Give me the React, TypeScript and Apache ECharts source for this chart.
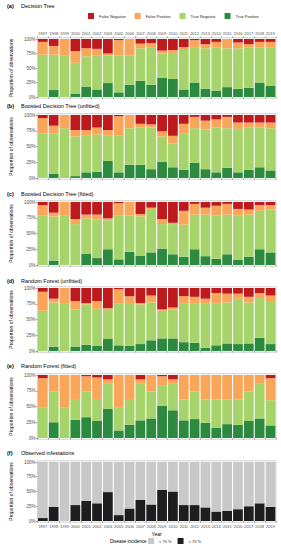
import React, { useEffect, useRef } from "react";
import * as echarts from "echarts";

const years = ["1997","1998","1999","2000","2001","2002","2003","2005","2006","2007","2008","2009","2010","2011","2012","2013","2014","2015","2016","2017","2018","2019"];

// (a) Decision Tree
const dtFN = [5,12,0,21,16,17,25,2,0,8,7,20,19,14,2,9,5,0,6,9,5,5];
const dtFP = [22,15,29,20,14,12,3,26,28,8,7,5,5,5,12,7,10,16,10,6,10,10];
const dtTN = [73,61,71,53,52,58,48,64,51,56,65,42,45,68,61,70,74,67,70,69,60,66];
const dtTP = [0,12,0,6,18,13,24,8,21,28,21,33,31,13,25,14,11,17,14,16,25,19];

// (b) Boosted Decision Tree (unfitted)
const bdtuFN = [5,17,0,24,24,20,24,2,0,14,15,26,33,14,3,9,7,3,12,12,12,12];
const bdtuFP = [24,12,21,10,8,11,8,30,21,6,5,8,12,15,18,14,13,18,10,8,8,9];
const bdtuTN = [71,64,79,63,59,59,41,59,58,59,66,40,38,58,55,63,71,63,69,67,63,67];
const bdtuTP = [0,7,0,3,9,10,27,9,21,21,14,26,17,13,24,14,9,16,9,13,17,12];

// (c) Boosted Decision Tree (fitted)
const bdtfFN = [5,17,0,27,20,20,26,2,0,19,9,27,33,14,3,9,6,3,11,12,5,5];
const bdtfFP = [16,6,21,8,6,8,3,19,21,4,2,8,2,22,17,11,15,17,10,8,9,7];
const bdtfTN = [79,70,79,65,56,61,46,70,58,62,69,39,48,51,55,66,69,63,71,67,61,68];
const bdtfTP = [0,7,0,0,18,11,25,9,21,15,20,26,17,13,25,14,10,17,8,13,25,20];

// (d) Random Forest (unfitted)
const rfuFN = [6,17,0,21,24,21,32,2,13,24,12,34,31,13,14,17,8,9,9,14,8,12];
const rfuFP = [30,6,24,13,2,12,3,22,11,2,11,2,3,11,10,7,16,14,8,9,8,10];
const rfuTN = [64,70,76,59,64,59,46,67,68,63,60,44,46,62,63,71,67,65,72,65,63,67];
const rfuTP = [0,7,0,7,10,8,19,9,8,11,17,20,20,14,13,5,9,12,11,12,21,11];

// (e) Random Forest (fitted)
const rffFN = [5,0,0,0,2,4,7,0,0,7,0,2,7,0,0,0,0,0,0,0,0,5];
const rffFP = [47,26,52,38,24,34,7,52,38,7,26,14,7,39,26,39,39,39,39,26,14,35];
const rffTN = [48,49,48,33,41,35,40,36,41,58,43,33,42,33,44,37,45,39,40,47,55,40];
const rffTP = [0,25,0,29,33,27,46,12,21,28,31,51,44,28,30,24,16,22,21,27,31,20];

// (f) Observed infestations
const obsHigh = [5,24,0,27,34,30,49,10,21,36,28,53,50,27,27,23,16,17,20,25,30,24];
const obsLow = [95,76,100,73,66,70,51,90,79,64,72,47,50,73,73,77,84,83,80,75,70,76];

const yTicks = [0, 25, 50, 75, 100];

const classNames = ["True Positive", "True Negative", "False Positive", "False Negative"];
const classColors = ["#2b8a3e", "#a6d46b", "#f9a65a", "#be1a1d"];

const FONT = "Liberation Sans, Arial, sans-serif";

export default function App() {
  const ref = useRef<HTMLDivElement>(null);
  useEffect(() => {
    document.body.style.margin = "0";
    if (!ref.current) return;
    const chart = echarts.init(ref.current, undefined, { renderer: "svg" });

    const panels = [
      { tag: "(a)", title: "Decision Tree", data: [dtTP, dtTN, dtFP, dtFN], y100: 39, y0: 97, ty: 6 },
      { tag: "(b)", title: "Boosted Decision Tree (unfitted)", data: [bdtuTP, bdtuTN, bdtuFP, bdtuFN], y100: 115, y0: 178, ty: 106 },
      { tag: "(c)", title: "Boosted Decision Tree (fitted)", data: [bdtfTP, bdtfTN, bdtfFP, bdtfFN], y100: 202, y0: 265, ty: 194 },
      { tag: "(d)", title: "Random Forest (unfitted)", data: [rfuTP, rfuTN, rfuFP, rfuFN], y100: 288, y0: 351, ty: 281 },
      { tag: "(e)", title: "Random Forest (fitted)", data: [rffTP, rffTN, rffFP, rffFN], y100: 375, y0: 438, ty: 366 },
      { tag: "(f)", title: "Observed infestations", data: [obsHigh, obsLow], y100: 462, y0: 521, ty: 453 },
    ];

    const grid: any[] = [];
    const xAxis: any[] = [];
    const yAxis: any[] = [];
    const series: any[] = [];
    const title: any[] = [];

    panels.forEach((p, i) => {
      const h = p.y0 - p.y100;
      grid.push({
        left: 23.4,
        width: 252.5,
        top: p.y100 - 0.02 * h,
        height: h * 1.04,
        show: true,
        borderColor: "#a0a0a0",
        borderWidth: 0.5,
        backgroundColor: "#ffffff",
      });
      xAxis.push({
        type: "category",
        gridIndex: i,
        data: years,
        axisLine: { show: false },
        axisTick: { show: true, length: 1.5, lineStyle: { color: "#555", width: 0.5 } },
        axisLabel: { show: i === 5, interval: 0, fontSize: 4, color: "#4d4d4d", margin: 2 },
        name: i === 5 ? "Year" : "",
        nameLocation: "middle",
        nameGap: 9,
        nameTextStyle: { fontSize: 5, color: "#000" },
      });
      yAxis.push({
        type: "value",
        gridIndex: i,
        min: -2,
        max: 102,
        axisLine: { show: false },
        splitLine: { show: false },
        axisTick: { show: true, customValues: yTicks, length: 1.5, lineStyle: { color: "#555", width: 0.5 } },
        axisLabel: { customValues: yTicks, formatter: "{value}%", fontSize: 4.5, color: "#4d4d4d", margin: 2 },
        name: "Proportion of observations",
        nameLocation: "middle",
        nameRotate: 90,
        nameGap: 15,
        nameTextStyle: { fontSize: 5, color: "#000" },
      });
      title.push({
        text: p.tag,
        left: 7,
        top: p.ty - 3,
        padding: 0,
        textStyle: { fontSize: 5.5, fontWeight: "bold", color: "#000" },
      });
      title.push({
        text: p.title,
        left: 21,
        top: p.ty - 3,
        padding: 0,
        textStyle: { fontSize: 5.5, fontWeight: "normal", color: "#000" },
      });
      if (i < 5) {
        p.data.forEach((vals, k) => {
          series.push({
            type: "bar",
            name: classNames[k],
            xAxisIndex: i,
            yAxisIndex: i,
            stack: "p" + i,
            barWidth: "90%",
            data: vals,
            itemStyle: { color: classColors[k] },
          });
        });
      } else {
        series.push({
          type: "bar", name: "> 70 %", xAxisIndex: i, yAxisIndex: i, stack: "obs",
          barWidth: "90%", data: obsHigh, itemStyle: { color: "#1e1e1e" },
        });
        series.push({
          type: "bar", name: "< 70 %", xAxisIndex: i, yAxisIndex: i, stack: "obs",
          barWidth: "90%", data: obsLow, itemStyle: { color: "#c8c8c8" },
        });
      }
    });

    // top year labels for panel (a)
    xAxis.push({
      type: "category",
      gridIndex: 0,
      position: "top",
      data: years,
      axisLine: { show: false },
      axisTick: { show: true, length: 1.5, lineStyle: { color: "#555", width: 0.5 } },
      axisLabel: { show: true, interval: 0, fontSize: 4, color: "#4d4d4d", margin: 2.5 },
    });

    chart.setOption({
      animation: false,
      textStyle: { fontFamily: FONT },
      title,
      grid,
      xAxis,
      yAxis,
      series,
      legend: [
        {
          data: ["False Negative", "False Positive", "True Negative", "True Positive"],
          left: 88,
          top: 13,
          padding: 0,
          icon: "rect",
          itemWidth: 6,
          itemHeight: 6,
          itemGap: 9,
          textStyle: { fontSize: 4, color: "#222" },
        },
        {
          data: ["< 70 %", "> 70 %"],
          left: 148,
          top: 538,
          padding: 0,
          icon: "rect",
          itemWidth: 6,
          itemHeight: 6,
          itemGap: 6,
          textStyle: { fontSize: 4, color: "#222" },
        },
      ],
      graphic: [
        {
          type: "text",
          left: 110,
          top: 539,
          style: { text: "Disease incidence", fontSize: 4.5, fill: "#000", fontFamily: FONT },
        },
      ],
    });
    return () => chart.dispose();
  }, []);
  return <div ref={ref} style={{ width: 281, height: 550 }} />;
}
